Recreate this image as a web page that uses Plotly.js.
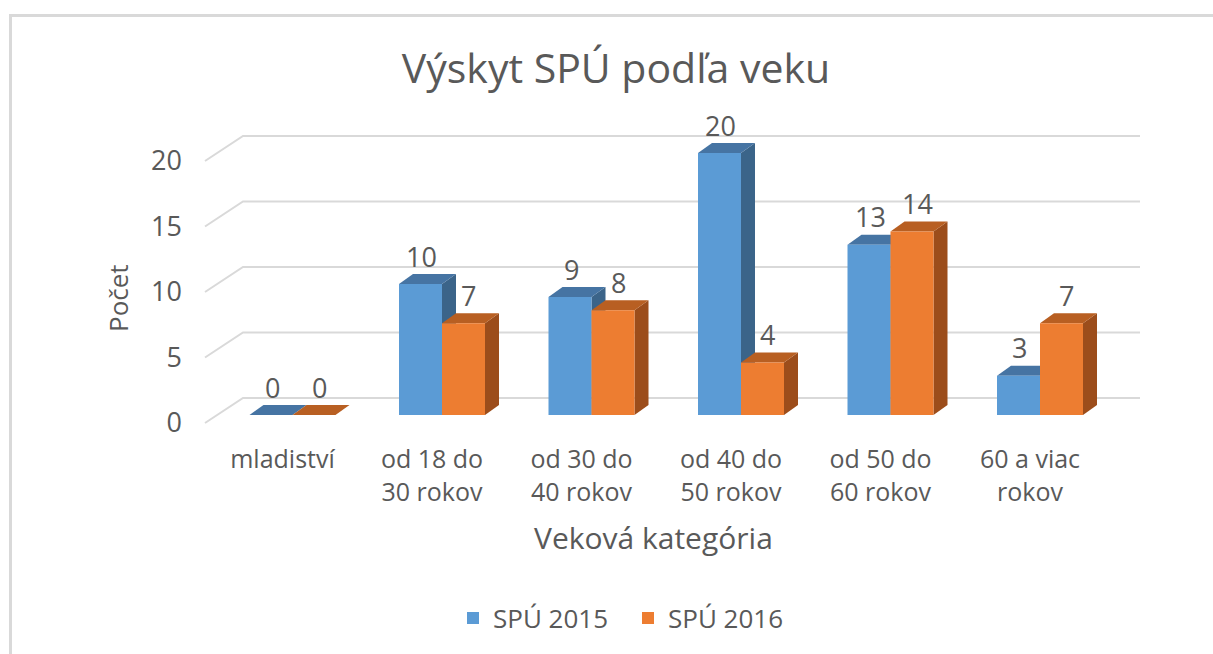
<!DOCTYPE html>
<html>
<head>
<meta charset="utf-8">
<script src="https://cdn.plot.ly/plotly-3.0.1.min.js"></script>
<style>
html,body{margin:0;padding:0;background:#fff;}
#chart{position:absolute;left:0;top:0;width:1213px;height:654px;}
#frame{position:absolute;left:9px;top:14px;width:1300px;height:700px;border-left:3px solid #d9d9d9;border-top:3px solid #d9d9d9;pointer-events:none;}
</style>
</head>
<body>
<div id="chart"></div>
<div id="frame"></div>
<script>
// ---- data ----
const categories = ['mladiství', 'od 18 do<br>30 rokov', 'od 30 do<br>40 rokov', 'od 40 do<br>50 rokov', 'od 50 do<br>60 rokov', '60 a viac<br>rokov'];
const spu2015 = [0, 10, 9, 20, 13, 3];
const spu2016 = [0, 7, 8, 4, 14, 7];
const seriesNames = ['SPÚ 2015', 'SPÚ 2016'];
const yTickVals = [0, 5, 10, 15, 20];
const chartTitle = 'Výskyt SPÚ podľa veku';
const xTitle = 'Veková kategória';
const yTitle = 'Počet';

// ---- styling / geometry ----
const frontColors = ['#5B9BD5', '#ED7D31'];
const topColors = ['#4674A3', '#B85F22'];
const sideColors = ['#3B6489', '#9C4D1B'];
const textColor = '#595959';
const gridColor = '#D9D9D9';
const FONT = 'Open Sans, sans-serif';

const W = 1213, H = 654;
const L = 203, R = 1142, T = 118, B = 430;   // plot area in px
const catPx = 149.5, firstCatPx = 292.5;     // category spacing
const unitPx = 13.1, zeroPx = 415;           // value scale
const barPx = 43;                            // bar width
const depthX = 14, depthY = 10;              // bar depth
const floorFront = {x: 205, dy: 8}, floorBack = {x: 243, dy: 17}, wallRight = 1140;

const xr0 = -(firstCatPx - L) / catPx;
const xr1 = xr0 + (R - L) / catPx;
const yr0 = -(B - zeroPx) / unitPx;
const yr1 = (zeroPx - T) / unitPx;
const px2x = p => xr0 + (p - L) / catPx;
const dX = p => p / catPx;
const dY = p => p / unitPx;
const barW = barPx / catPx;

const series = [spu2015, spu2016];

// ---- shapes: back wall grid + 3D faces ----
const shapes = [];
yTickVals.forEach(v => {
  shapes.push({
    type: 'path', xref: 'x', yref: 'y', layer: 'below',
    path: `M ${px2x(floorFront.x)} ${v - dY(floorFront.dy)} L ${px2x(floorBack.x)} ${v + dY(floorBack.dy)} L ${px2x(wallRight)} ${v + dY(floorBack.dy)}`,
    line: {color: gridColor, width: 2}
  });
});
series.forEach((vals, s) => {
  vals.forEach((v, i) => {
    const xl = i - barW + s * barW;
    const xr = xl + barW;
    const ddx = dX(depthX), ddy = dY(depthY);
    // side face
    shapes.push({
      type: 'path', xref: 'x', yref: 'y', layer: 'below',
      path: `M ${xr} 0 L ${xr} ${v} L ${xr + ddx} ${v + ddy} L ${xr + ddx} ${ddy} Z`,
      fillcolor: sideColors[s], line: {width: 0}
    });
    // top face
    shapes.push({
      type: 'path', xref: 'x', yref: 'y', layer: 'below',
      path: `M ${xl} ${v} L ${xl + ddx} ${v + ddy} L ${xr + ddx} ${v + ddy} L ${xr} ${v} Z`,
      fillcolor: topColors[s], line: {width: 0}
    });
  });
});

// ---- annotations: value labels + axis titles ----
const annotations = [];
series.forEach((vals, s) => {
  vals.forEach((v, i) => {
    annotations.push({
      x: i, y: v, xref: 'x', yref: 'y',
      xshift: s === 0 ? -barPx / 2 + 1 : barPx / 2 + 5,
      yshift: 28, yanchor: 'middle', xanchor: 'center',
      text: String(v), showarrow: false,
      font: {family: FONT, size: 27, color: textColor}
    });
  });
});
annotations.push({
  xref: 'paper', yref: 'paper', x: (118 - L) / (R - L), y: (B - 298) / (B - T),
  text: yTitle, textangle: -90, showarrow: false, xanchor: 'center', yanchor: 'middle',
  font: {family: FONT, size: 26, color: textColor}
});
annotations.push({
  xref: 'paper', yref: 'paper', x: (653 - L) / (R - L), y: (B - 537) / (B - T),
  text: xTitle, showarrow: false, xanchor: 'center', yanchor: 'middle',
  font: {family: FONT, size: 30, color: textColor}
});

const traces = series.map((vals, s) => ({
  type: 'bar', x: categories, y: vals, name: seriesNames[s],
  marker: {color: frontColors[s], line: {width: 0}},
  hoverinfo: 'skip'
}));

const layout = {
  width: W, height: H,
  margin: {l: L, r: W - R, t: T, b: H - B, pad: 0},
  paper_bgcolor: '#fff', plot_bgcolor: 'rgba(0,0,0,0)',
  barmode: 'group', bargap: 1 - 2 * barW, bargroupgap: 0,
  title: {
    text: chartTitle, x: 616 / W, xref: 'container', xanchor: 'center',
    y: 1 - 69 / H, yref: 'container', yanchor: 'middle',
    font: {family: FONT, size: 41, color: textColor}
  },
  xaxis: {
    type: 'category', range: [xr0, xr1], showgrid: false, zeroline: false, showline: false,
    ticks: '', ticklabelshift: -10, ticklabelstandoff: 12,
    tickfont: {family: FONT, size: 25, color: textColor}, fixedrange: true
  },
  yaxis: {
    range: [yr0, yr1], tickvals: yTickVals, showgrid: false, zeroline: false, showline: false,
    ticks: '', ticklabelshift: 8, ticklabelstandoff: 20,
    tickfont: {family: FONT, size: 27, color: textColor}, fixedrange: true
  },
  showlegend: true,
  legend: {
    orientation: 'h', xref: 'container', yref: 'container',
    x: 628 / W, xanchor: 'center', y: 1 - 618 / H, yanchor: 'middle',
    entrywidth: 130, entrywidthmode: 'pixels',
    font: {family: FONT, size: 26, color: textColor}, bgcolor: 'rgba(0,0,0,0)'
  },
  shapes: shapes,
  annotations: annotations
};

Plotly.newPlot('chart', traces, layout, {displayModeBar: false, staticPlot: true});
</script>
</body>
</html>
